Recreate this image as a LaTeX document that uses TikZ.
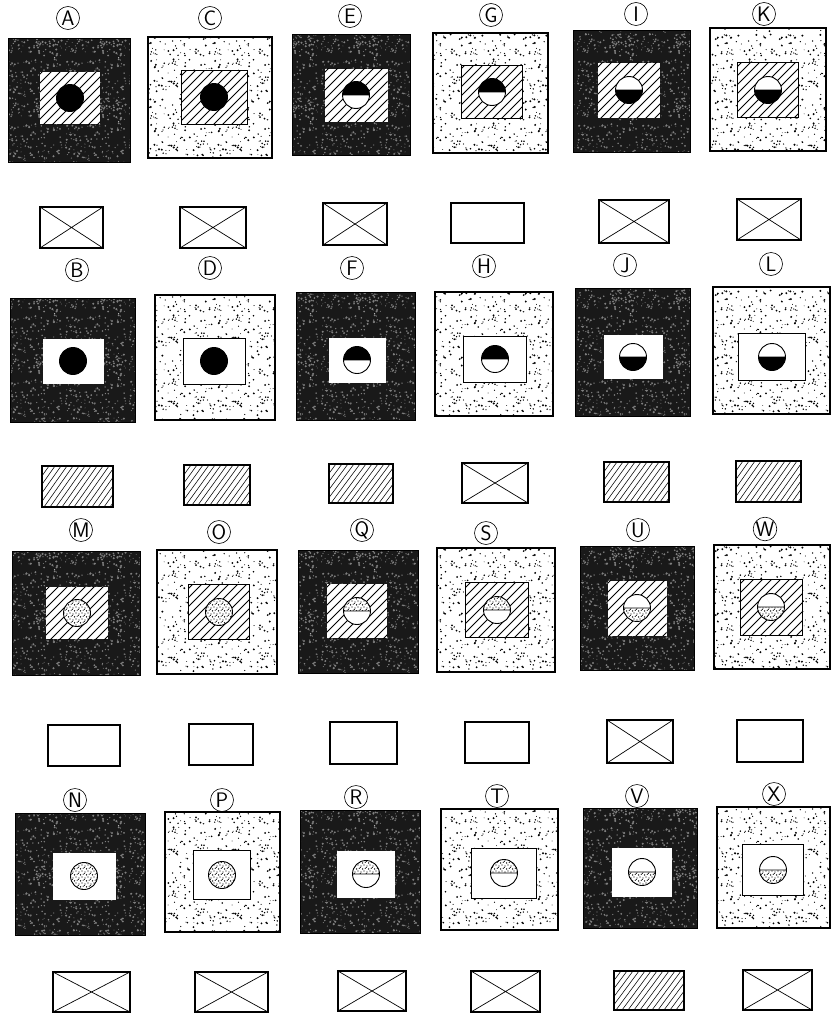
\documentclass[tikz,border=0pt]{standalone}
\usetikzlibrary{patterns}
\pgfmathsetseed{4242}
\pgfdeclarepatternformonly{lstip}{\pgfqpoint{0pt}{0pt}}{\pgfqpoint{64pt}{64pt}}{\pgfqpoint{64pt}{64pt}}{%
  \foreach \k in {1,...,140}{%
    \pgfmathsetmacro\px{1.2+rnd*61.6}\pgfmathsetmacro\py{1.2+rnd*61.6}\pgfmathsetmacro\pr{0.4+0.75*rnd}%
    \pgfpathcircle{\pgfqpoint{\px pt}{\py pt}}{\pr pt}\pgfusepath{fill}}}
\pgfdeclarepatternformonly{dstip}{\pgfqpoint{0pt}{0pt}}{\pgfqpoint{64pt}{64pt}}{\pgfqpoint{64pt}{64pt}}{%
  \foreach \k in {1,...,240}{%
    \pgfmathsetmacro\px{1.2+rnd*61.6}\pgfmathsetmacro\py{1.2+rnd*61.6}\pgfmathsetmacro\pr{0.4+0.8*rnd}%
    \pgfpathcircle{\pgfqpoint{\px pt}{\py pt}}{\pr pt}\pgfusepath{fill}}}
\pgfdeclarepatternformonly{spk}{\pgfqpoint{-1pt}{-1pt}}{\pgfqpoint{7pt}{7pt}}{\pgfqpoint{6pt}{6pt}}{%
  \pgfpathcircle{\pgfqpoint{1pt}{1pt}}{0.7pt}%
  \pgfpathcircle{\pgfqpoint{4pt}{2pt}}{0.6pt}%
  \pgfpathcircle{\pgfqpoint{2.5pt}{4pt}}{0.75pt}%
  \pgfpathcircle{\pgfqpoint{5.2pt}{4.8pt}}{0.6pt}%
  \pgfpathcircle{\pgfqpoint{0.3pt}{5.5pt}}{0.5pt}%
  \pgfusepath{fill}}
\definecolor{speck}{gray}{0.5}
\tikzset{
  darkfill/.style={fill=black!90},
  darkspeck/.style={pattern=dstip,pattern color=speck},
  lightfill/.style={fill=white,postaction={pattern=lstip,pattern color=black}},
  lightedge/.style={draw=black,line width=1.2pt},
  hline/.style={line width=0.8pt},
  shline/.style={line width=0.55pt},
  bord/.style={draw=black,line width=1pt},
  lab/.style={circle,draw,line width=0.6pt,inner sep=0pt,minimum size=23pt,font=\sffamily\fontsize{21}{21}\selectfont},
  smallrect/.style={draw=black,line width=1.1pt,fill=white},
  blk/.style={fill=black},
  wht/.style={fill=white},
  dts/.style={fill=white,postaction={pattern=spk,pattern color=black}},
}
\newcommand\dsq[4]{%
  \path[darkfill] (#1,#2) rectangle (#3,#4);
  \path[darkspeck] (#1,#2) rectangle (#3,#4);
  \draw[line width=0.8pt] (#1,#2) rectangle (#3,#4);}
\newcommand\lsq[4]{%
  \path[lightfill] (#1,#2) rectangle (#3,#4);
  \draw[lightedge] (#1,#2) rectangle (#3,#4);}
% hatched inner: cx cy w h extra
\newcommand\innh[5]{%
  \path[fill=white,#5] ({#1-(#3)/2},{#2-(#4)/2}) rectangle ({#1+(#3)/2},{#2+(#4)/2});
  \begin{scope}
    \clip ({#1-(#3)/2},{#2-(#4)/2}) rectangle ({#1+(#3)/2},{#2+(#4)/2});
    \foreach \t in {-90,-81,...,90}{\draw[hline] ({#1+\t-30},{#2+30}) -- ({#1+\t+30},{#2-30});}
  \end{scope}
  \path[#5] ({#1-(#3)/2},{#2-(#4)/2}) rectangle ({#1+(#3)/2},{#2+(#4)/2});}
\newcommand\innw[5]{%
  \path[fill=white,#5] ({#1-(#3)/2},{#2-(#4)/2}) rectangle ({#1+(#3)/2},{#2+(#4)/2});}
\newcommand\dfull[3]{%
  \path[#3] (#1,#2) circle (13.5pt);
  \draw[line width=0.9pt] (#1,#2) circle (13.5pt);}
\newcommand\dhalf[4]{%
  \begin{scope}
    \clip (#1,#2) circle (13.5pt);
    \path[#3] ({#1-15},{#2-15}) rectangle ({#1+15},#2);
    \path[#4] ({#1-15},#2) rectangle ({#1+15},{#2+15});
  \end{scope}
  \draw[line width=0.9pt] (#1,#2) circle (13.5pt) ({#1-13.5},#2) -- ({#1+13.5},#2);}
\newcommand\smallr[4]{\draw[smallrect] (#1,#2) rectangle (#3,#4);}
\newcommand\smallh[4]{%
  \draw[smallrect] (#1,#2) rectangle (#3,#4);
  \begin{scope}
    \clip (#1,#2) rectangle (#3,#4);
    \foreach \t in {-40,-34,...,110}{\draw[shline] ({#1+\t},#4) -- ({#1+\t+29},#2);}
  \end{scope}
  \draw[smallrect,fill=none] (#1,#2) rectangle (#3,#4);}
\newcommand\smallx[4]{%
  \draw[smallrect] (#1,#2) rectangle (#3,#4);
  \draw[line width=0.7pt] (#1,#2) -- (#3,#4) (#1,#4) -- (#3,#2);}
\begin{document}
\begin{tikzpicture}[x=1pt,y=-1pt]
\fill[white] (0,0) rectangle (838,1017);
\useasboundingbox (0,0) rectangle (838,1017);
% ---------- row 1
\node[lab] (lA) at (68,18) {A};
\dsq{8}{38}{130}{162}\innh{70}{98}{60}{52}{}\dfull{70}{98}{blk}\smallx{40}{207}{103}{248}
\node[lab] (lC) at (210,18) {C};
\lsq{148}{37}{272}{158}\innh{214}{97}{66}{54}{bord}\dfull{214}{97}{blk}\smallx{180}{207}{246}{248}
\node[lab] (lE) at (350,16) {E};
\dsq{292}{34}{410}{155}\innh{356}{95}{63}{53}{}\dhalf{356}{95}{blk}{wht}\smallx{323}{203}{387}{245}
\node[lab] (lG) at (491,15) {G};
\lsq{433}{33}{548}{153}\innh{492}{92}{61}{53}{bord}\dhalf{492}{92}{blk}{wht}\smallr{451}{203}{524}{243}
\node[lab] (lI) at (636,14) {I};
\dsq{573}{30}{690}{152}\innh{629}{90}{62}{55}{}\dhalf{629}{90}{wht}{blk}\smallx{599}{200}{669}{243}
\node[lab] (lK) at (764,14) {K};
\lsq{710}{28}{826}{151}\innh{768}{90}{61}{55}{bord}\dhalf{768}{90}{wht}{blk}\smallx{737}{199}{801}{240}
% ---------- row 2
\node[lab] (lB) at (77,270) {B};
\dsq{10}{298}{135}{422}\innw{73}{361}{61}{45}{}\dfull{73}{361}{blk}\smallh{42}{466}{113}{507}
\node[lab] (lD) at (210,268) {D};
\lsq{155}{295}{275}{420}\innw{214}{361}{62}{46}{bord}\dfull{214}{361}{blk}\smallh{184}{465}{250}{505}
\node[lab] (lF) at (352,268) {F};
\dsq{296}{292}{415}{420}\innw{357}{360}{57}{45}{}\dhalf{357}{360}{blk}{wht}\smallh{329}{464}{393}{503}
\node[lab] (lH) at (484,266) {H};
\lsq{435}{292}{553}{416}\innw{495}{359}{63}{46}{bord}\dhalf{495}{359}{blk}{wht}\smallx{462}{463}{528}{503}
\node[lab] (lJ) at (625,265) {J};
\dsq{575}{288}{690}{416}\innw{633}{357}{59}{44}{}\dhalf{633}{357}{wht}{blk}\smallh{604}{462}{669}{502}
\node[lab] (lL) at (771,264) {L};
\lsq{713}{287}{830}{414}\innw{772}{357}{67}{47}{bord}\dhalf{772}{357}{wht}{blk}\smallh{736}{461}{801}{502}
% ---------- row 3
\node[lab] (lM) at (81,530) {M};
\dsq{12}{551}{140}{675}\innh{77}{613}{62}{52}{}\dfull{77}{613}{dts}\smallr{48}{725}{120}{766}
\node[lab] (lO) at (219,532) {O};
\lsq{157}{550}{277}{674}\innh{219}{612}{61}{55}{bord}\dfull{219}{612}{dts}\smallr{189}{724}{253}{765}
\node[lab] (lQ) at (362,530) {Q};
\dsq{298}{550}{418}{673}\innh{357}{611}{60}{54}{}\dhalf{357}{611}{dts}{wht}\smallr{330}{722}{397}{764}
\node[lab] (lS) at (486,533) {S};
\lsq{437}{548}{555}{672}\innh{497}{610}{63}{55}{bord}\dhalf{497}{610}{dts}{wht}\smallr{465}{722}{529}{763}
\node[lab] (lU) at (638,530) {U};
\dsq{580}{546}{694}{670}\innh{637}{608}{59}{55}{}\dhalf{637}{608}{wht}{dts}\smallx{607}{720}{673}{763}
\node[lab] (lW) at (765,529) {W};
\lsq{714}{545}{830}{669}\innh{771}{607}{62}{56}{bord}\dhalf{771}{607}{wht}{dts}\smallr{737}{720}{803}{762}
% ---------- row 4
\node[lab] (lN) at (75,800) {N};
\dsq{15}{813}{145}{935}\innw{84}{876}{63}{47}{}\dfull{84}{876}{dts}\smallx{53}{972}{130}{1012}
\node[lab] (lP) at (222,800) {P};
\lsq{165}{812}{280}{932}\innw{222}{875}{57}{49}{bord}\dfull{222}{875}{dts}\smallx{195}{972}{268}{1012}
\node[lab] (lR) at (356,797) {R};
\dsq{300}{810}{420}{933}\innw{366}{874}{58}{47}{}\dhalf{366}{874}{dts}{wht}\smallx{338}{971}{406}{1011}
\node[lab] (lT) at (497,796) {T};
\lsq{441}{809}{558}{930}\innw{504}{873}{65}{50}{bord}\dhalf{504}{873}{dts}{wht}\smallx{471}{971}{540}{1012}
\node[lab] (lV) at (637,796) {V};
\dsq{583}{808}{697}{928}\innw{642}{872}{60}{49}{}\dhalf{642}{872}{wht}{dts}\smallh{614}{971}{684}{1010}
\node[lab] (lX) at (774,794) {X};
\lsq{717}{807}{830}{928}\innw{773}{870}{61}{51}{bord}\dhalf{773}{870}{wht}{dts}\smallx{743}{970}{812}{1010}
\end{tikzpicture}
\end{document}
